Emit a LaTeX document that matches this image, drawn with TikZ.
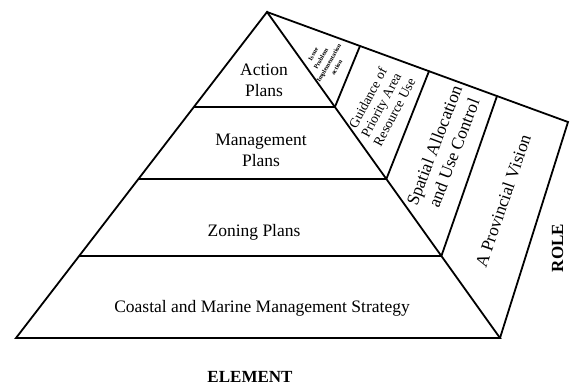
\documentclass[tikz,border=0pt]{standalone}
\usepackage{fontspec}
\setmainfont{Liberation Serif}
\usetikzlibrary{calc}
\begin{document}
\begin{tikzpicture}[x=1pt,y=-1pt,
  edge/.style={line width=1.8pt, line join=miter, line cap=round},
  band/.style={line width=2.4pt},
  lbl/.style={font=\fontsize{17.5}{21}\selectfont, align=center, inner sep=0pt},
  midlbl/.style={font=\fontsize{13.5}{15}\selectfont, align=center, inner sep=0pt},
  tinylbl/.style={font=\bfseries\fontsize{6.3}{9}\selectfont, align=center, inner sep=0pt},
  headlbl/.style={font=\bfseries\fontsize{17}{20}\selectfont, inner sep=0pt}
]
\useasboundingbox (0,0) rectangle (570,386);
% pyramid vertices
\coordinate (apex) at (267,12);
\coordinate (bl) at (16,338);
\coordinate (br) at (500,338);
\coordinate (tc) at (568,122);
\coordinate (l1) at ($(apex)!{95/326}!(bl)$);
\coordinate (r1) at ($(apex)!{95/326}!(br)$);
\coordinate (l2) at ($(apex)!{167/326}!(bl)$);
\coordinate (r2) at ($(apex)!{167/326}!(br)$);
\coordinate (l3) at ($(apex)!{244/326}!(bl)$);
\coordinate (r3) at ($(apex)!{244/326}!(br)$);
\coordinate (t1) at ($(apex)!{93/301}!(tc)$);
\coordinate (t2) at ($(apex)!{162/301}!(tc)$);
\coordinate (t3) at ($(apex)!{230/301}!(tc)$);
% outlines
\draw[edge] (apex) -- (bl) -- (br) -- cycle;
\draw[band] (l1) -- (r1);
\draw[band] (l2) -- (r2);
\draw[band] (l3) -- (r3);
\draw[edge] (apex) -- (tc) -- (br);
\draw[edge] (r1) -- (t1);
\draw[edge] (r2) -- (t2);
\draw[edge] (r3) -- (t3);
% pyramid labels
\node[lbl] (action) at (264,80) {Action\\Plans};
\node[lbl] (mgmt) at (261,150) {Management\\Plans};
\node[lbl, anchor=base] (zoning) at (254,236) {Zoning Plans};
\node[lbl, anchor=base] (coastal) at (262,312) {Coastal and Marine Management Strategy};
\node[headlbl, anchor=base] (element) at (250,382) {ELEMENT};
% role labels
\node[tinylbl, rotate=60] (site) at (325,61) {Issue\\Problem\\Implementation\\action};
\node[midlbl, rotate=62] (guid) at (381,105) {Guidance of\\Priority Area\\Resource Use};
\node[lbl, rotate=69] (spatial) at (444,149) {Spatial Allocation\\and Use Control};
\node[lbl, rotate=71] (vision) at (503,201) {A Provincial Vision};
\node[headlbl, rotate=90, anchor=base] (role) at (563,248) {ROLE};
\end{tikzpicture}
\end{document}
